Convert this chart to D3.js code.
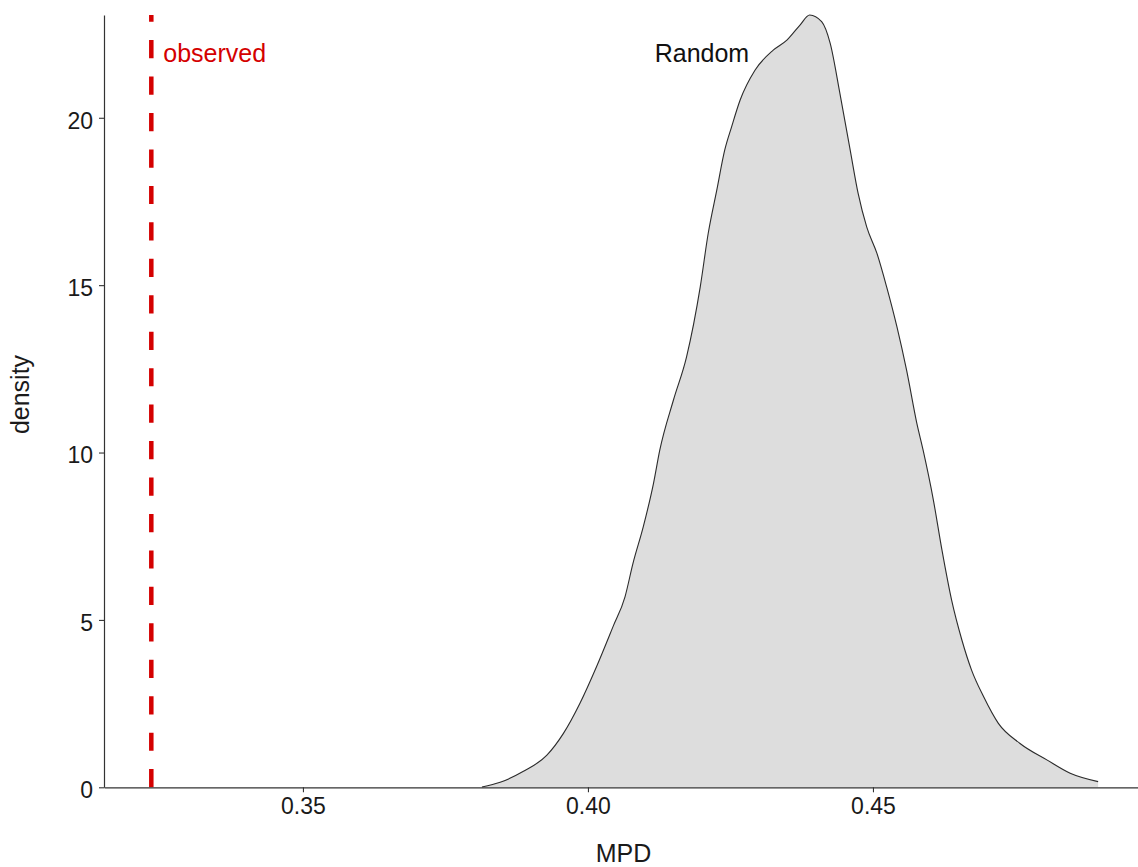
<!DOCTYPE html>
<html>
<head>
<meta charset="utf-8">
<script src="https://cdn.jsdelivr.net/npm/d3@7"></script>
<style>
  html, body { margin: 0; padding: 0; background: #fff; }
  svg { display: block; font-family: "Liberation Sans", Arial, sans-serif; }
</style>
</head>
<body>
<svg id="chart" width="1138" height="867"></svg>
<script>
// ---- data ----
const mpd = [0.3814, 0.3846, 0.3886, 0.3928, 0.3957, 0.3986, 0.4015, 0.4044, 0.4065, 0.4079,
             0.4097, 0.4115, 0.4126, 0.4150, 0.4173, 0.4197, 0.4211, 0.4226, 0.4240, 0.4252,
             0.4267, 0.4293, 0.4325, 0.4349, 0.4372, 0.4389, 0.4410, 0.4425, 0.4442, 0.4460,
             0.4474, 0.4489, 0.4507, 0.4524, 0.4542, 0.4559, 0.4577, 0.4588, 0.4606, 0.4621,
             0.4638, 0.4656, 0.4673, 0.4694, 0.4720, 0.4758, 0.4805, 0.4846, 0.4895];
const density = [0.01, 0.15, 0.47, 0.96, 1.61, 2.51, 3.60, 4.80, 5.69, 6.69,
                 7.78, 9.08, 10.07, 11.57, 12.86, 14.95, 16.55, 17.84, 19.04, 19.73,
                 20.53, 21.42, 22.02, 22.32, 22.77, 23.07, 22.87, 22.22, 20.73, 19.04,
                 17.74, 16.74, 15.95, 14.95, 13.76, 12.46, 10.87, 10.07, 8.58, 7.09,
                 5.59, 4.40, 3.50, 2.71, 1.91, 1.31, 0.82, 0.42, 0.17];
const observedMPD = 0.3234;
const xTicks = [0.35, 0.40, 0.45];
const yTicks = [0, 5, 10, 15, 20];
const xDomain = [0.3151, 0.4979];
const yDomain = [0, 23.07];
const labelObserved = "observed";
const labelRandom = "Random";
const labelRandomX = 0.42;
const labelY = 22;
const xTitle = "MPD";
const yTitle = "density";

// ---- layout ----
const svg = d3.select("#chart");
const padL = 104, padT = 15, padB = 787.3, padR = 1146;

const x = d3.scaleLinear().domain(xDomain).range([padL, padR]);
const y = d3.scaleLinear().domain(yDomain).range([padB, padT]);

const pts = mpd.map((m, i) => ({ x: m, y: density[i] }));

// density area
svg.append("path")
  .datum(pts)
  .attr("fill", "#dddddd")
  .attr("stroke", "none")
  .attr("d", d3.area().x(d => x(d.x)).y0(y(0)).y1(d => y(d.y)).curve(d3.curveMonotoneX));

svg.append("path")
  .datum(pts)
  .attr("fill", "none")
  .attr("stroke", "#2b2b2b")
  .attr("stroke-width", 1.1)
  .attr("d", d3.line().x(d => x(d.x)).y(d => y(d.y)).curve(d3.curveMonotoneX));

// observed line
svg.append("line")
  .attr("x1", x(observedMPD)).attr("x2", x(observedMPD))
  .attr("y1", y(0)).attr("y2", padT)
  .attr("stroke", "#d40000")
  .attr("stroke-width", 4.5)
  .attr("stroke-dasharray", "18.2,18.25");

// axes
const xAxis = svg.append("g")
  .attr("transform", `translate(0,${padB})`)
  .call(d3.axisBottom(x).tickValues(xTicks).tickFormat(d3.format(".2f")).tickSize(5).tickSizeOuter(0).tickPadding(5.7));
const yAxis = svg.append("g")
  .attr("transform", `translate(${padL},0)`)
  .call(d3.axisLeft(y).tickValues(yTicks).tickFormat(d3.format("d")).tickSize(5).tickSizeOuter(0).tickPadding(6));

[xAxis, yAxis].forEach(g => {
  g.select(".domain").attr("stroke", "#333").attr("stroke-width", 1.2);
  g.selectAll(".tick line").attr("stroke", "#333").attr("stroke-width", 1.1);
  g.selectAll(".tick text")
    .attr("fill", "#1a1a1a")
    .style("font-size", "23px")
    .style("font-family", "'Liberation Sans', Arial, sans-serif");
});
yAxis.selectAll(".tick text").attr("dy", "0.45em");

// axis titles
svg.append("text")
  .attr("x", (padL + padR) / 2 - 1.5)
  .attr("y", 862)
  .attr("text-anchor", "middle")
  .attr("fill", "#1a1a1a")
  .style("font-size", "25px")
  .text(xTitle);

svg.append("text")
  .attr("transform", `translate(29,394.5) rotate(-90)`)
  .attr("text-anchor", "middle")
  .attr("fill", "#1a1a1a")
  .style("font-size", "25px")
  .text(yTitle);

// annotations
svg.append("text")
  .attr("x", x(observedMPD) + 12)
  .attr("y", y(labelY) + 11)
  .attr("text-anchor", "start")
  .attr("fill", "#d40000")
  .style("font-size", "25px")
  .text(labelObserved);

svg.append("text")
  .attr("x", x(labelRandomX))
  .attr("y", y(labelY) + 11)
  .attr("text-anchor", "middle")
  .attr("fill", "#111")
  .style("font-size", "25px")
  .text(labelRandom);
</script>
</body>
</html>
